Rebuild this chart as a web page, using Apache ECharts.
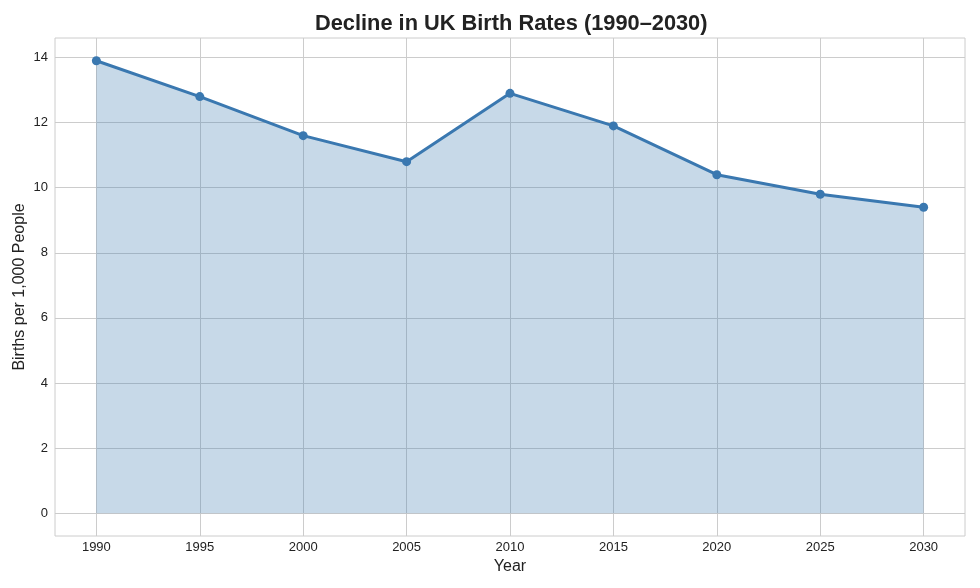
<!DOCTYPE html>
<html>
<head>
<meta charset="utf-8">
<script src="https://cdn.jsdelivr.net/npm/echarts@6/dist/echarts.min.js"></script>
<style>
  html, body { margin: 0; padding: 0; background: #fff; }
  #chart { width: 980px; height: 588px; }
</style>
</head>
<body>
<div id="chart"></div>
<script>
// data
var years = [1990, 1995, 2000, 2005, 2010, 2015, 2020, 2025, 2030];
var birthRates = [13.9, 12.8, 11.6, 10.8, 12.9, 11.9, 10.4, 9.8, 9.4];
var yTicks = [0, 2, 4, 6, 8, 10, 12, 14];

var chart = echarts.init(document.getElementById("chart"));

var option = {
  animation: false,
  title: {
    text: "Decline in UK Birth Rates (1990\u20132030)",
    left: 310,
    top: 8,
    textStyle: { fontFamily: "Liberation Sans", fontSize: 21.8, fontWeight: "bold", color: "#222" }
  },
  grid: {
    left: 55, right: 15, top: 38, bottom: 52,
    outerBoundsMode: "none",
    containLabel: false,
    show: true, borderColor: "#cccccc", borderWidth: 1
  },
  xAxis: {
    type: "value",
    min: 1988, max: 2032,
    name: "Year",
    nameLocation: "middle",
    nameGap: 23,
    nameMoveOverlap: false,
    nameTextStyle: { fontFamily: "Liberation Sans", fontSize: 16, color: "#222" },
    axisLine: { show: false },
    axisTick: { show: false, customValues: years },
    axisLabel: {
      customValues: years,
      formatter: function (v) { return String(v); },
      fontFamily: "Liberation Sans", fontSize: 13, color: "#222", margin: 5
    },
    splitLine: { show: true, lineStyle: { color: "#cccccc", width: 1 } }
  },
  yAxis: {
    type: "value",
    min: -0.7, max: 14.6,
    name: "Births per 1,000 People",
    nameLocation: "middle",
    nameGap: 27,
    nameMoveOverlap: false,
    nameTextStyle: { fontFamily: "Liberation Sans", fontSize: 16, color: "#222" },
    axisLine: { show: false },
    axisTick: { show: false, customValues: yTicks },
    axisLabel: {
      customValues: yTicks,
      fontFamily: "Liberation Sans", fontSize: 13, color: "#222", margin: 7
    },
    splitLine: { show: true, lineStyle: { color: "#cccccc", width: 1 } }
  },
  series: [
    {
      type: "line",
      data: years.map(function (y, i) { return [y, birthRates[i]]; }),
      symbol: "circle",
      symbolSize: 9,
      itemStyle: { color: "#3a78b0" },
      lineStyle: { color: "#3a78b0", width: 3 },
      areaStyle: { color: "#4682b4", opacity: 0.3, origin: 0 }
    }
  ]
};
chart.setOption(option);
</script>
</body>
</html>
